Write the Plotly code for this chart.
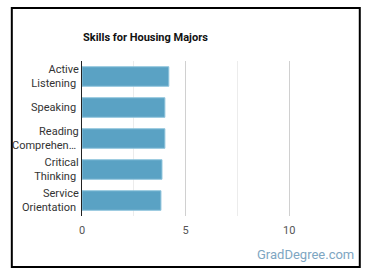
import plotly.graph_objects as go

categories = ["Active<br>Listening", "Speaking", "Reading<br>Comprehen…", "Critical<br>Thinking", "Service<br>Orientation"]
values = [4.19, 4.0, 4.0, 3.86, 3.81]
x_ticks = [0, 5, 10]

W, H = 370, 278
L, R, T, B = 79, 341, 61, 216

def px(x):
    return (x - L) / (R - L)

def py(y):
    return (B - y) / (B - T)

fig = go.Figure(go.Bar(
    y=categories, x=values, orientation="h",
    marker=dict(color="#5aa2c4", line=dict(color="#8fc4dc", width=1)),
    width=0.63,
))

fig.update_layout(
    width=W, height=H,
    margin=dict(l=L, r=W - R, t=T, b=H - B, pad=0),
    paper_bgcolor="white", plot_bgcolor="white",
    showlegend=False,
    font=dict(family="Roboto", size=11, color="#333"),
    xaxis=dict(range=[0, 12.5], tickvals=x_ticks, showgrid=True, gridcolor="#d0d0d0",
               gridwidth=1, zeroline=False, showline=False, ticks="",
               ticklabelstandoff=6,
               tickfont=dict(size=11, color="#555"),
               minor=dict(dtick=2.5, tick0=0, showgrid=True, gridcolor="#ececec", gridwidth=1)),
    yaxis=dict(autorange="reversed", showline=True, linecolor="#222", linewidth=1,
               ticks="", showgrid=False, tickfont=dict(size=11, color="#333"), ticksuffix=" "),
    shapes=[dict(type="rect", xref="paper", yref="paper",
                 x0=px(8), x1=px(360), y0=py(267), y1=py(8),
                 line=dict(color="black", width=2), fillcolor="rgba(0,0,0,0)")],
    annotations=[
        dict(text="<b>Skills for Housing Majors</b>", xref="paper", yref="paper",
             x=px(78), y=py(37), xanchor="left", yanchor="middle", showarrow=False,
             font=dict(size=11, color="#111")),
        dict(text="GradDegree.com", xref="paper", yref="paper",
             x=px(356), y=py(255), xanchor="right", yanchor="middle", showarrow=False,
             font=dict(size=13, color="#7ea6c2")),
    ],
)

fig.write_html("out.html")
